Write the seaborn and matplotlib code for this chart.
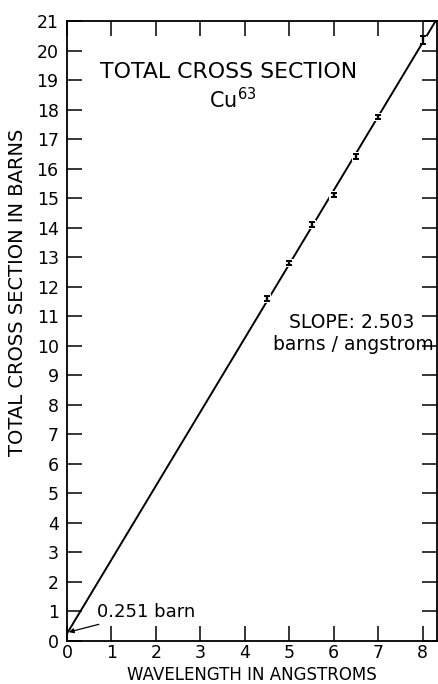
import numpy as np
import pandas as pd
import matplotlib
matplotlib.use("Agg")
import matplotlib.pyplot as plt
import seaborn as sns

# ---- data ----
wavelength = [4.5, 5.0, 5.5, 6.0, 6.5, 7.0, 8.0]
cross_section = [11.6, 12.8, 14.1, 15.1, 16.4, 17.75, 20.35]
cs_error = [0.08, 0.08, 0.08, 0.06, 0.08, 0.08, 0.13]
SLOPE = 2.503
INTERCEPT = 0.251
fit_range = [0.0, 8.5]
x_ticks = [0, 1, 2, 3, 4, 5, 6, 7, 8]
y_ticks = list(range(0, 22))

sns.set_theme(style="ticks")
plt.rcParams['font.family'] = ['DejaVu Sans']

fig = plt.figure(figsize=(4.39, 6.84), dpi=100)
ax = fig.add_axes([0.1526, 0.0629, 0.8428, 0.9064])

fit_x = np.array(fit_range)
fit_df = pd.DataFrame({"x": fit_x, "y": INTERCEPT + SLOPE * fit_x})
sns.lineplot(data=fit_df, x="x", y="y", ax=ax, color="black", lw=1.4, zorder=2)

pts = pd.DataFrame({"x": wavelength, "y": cross_section, "e": cs_error})
sns.scatterplot(data=pts, x="x", y="y", ax=ax, marker="s", s=40, color="white",
                edgecolor="none", zorder=3)
ax.errorbar(pts["x"], pts["y"], yerr=pts["e"], fmt="none", ecolor="black",
            elinewidth=1.7, capsize=2.3, capthick=1.4, zorder=4)

ax.set_xlim(0, 8.32)
ax.set_ylim(0, 21)
ax.set_xticks(x_ticks)
ax.set_yticks(y_ticks)
ax.tick_params(direction="in", length=11, width=1.1, labelsize=12.5, color="black",
               top=True, right=True, labelcolor="black")
ax.tick_params(axis="x", pad=2)
ax.tick_params(axis="y", pad=6)
for s in ax.spines.values():
    s.set_linewidth(1.3)
    s.set_color("black")
    s.set_visible(True)

ax.set_xlabel("WAVELENGTH IN ANGSTROMS", fontsize=12, color="black", labelpad=3)
ax.set_ylabel("TOTAL CROSS SECTION IN BARNS", fontsize=14, color="black")
ax.yaxis.set_label_coords(-0.108, 0.563)

ax.text(3.63, 19.27, "TOTAL CROSS SECTION", fontsize=15.8, ha="center", va="center", color="black")
ax.text(3.72, 18.33, r"Cu$^{\mathregular{63}}$", fontsize=15, ha="center", va="center", color="black")
ax.text(6.4, 10.78, "SLOPE: 2.503", fontsize=13.5, ha="center", va="center", color="black")
ax.text(6.45, 10.03, "barns / angstrom", fontsize=13.5, ha="center", va="center", color="black")

ax.annotate("0.251 barn", xy=(0.04, INTERCEPT + 0.05), xytext=(0.68, 0.98),
            fontsize=13, va="center", ha="left", color="black",
            arrowprops=dict(arrowstyle="-|>", color="black", lw=0.9,
                            mutation_scale=7, shrinkA=0, shrinkB=0))

fig.savefig("out.png", dpi=100)
